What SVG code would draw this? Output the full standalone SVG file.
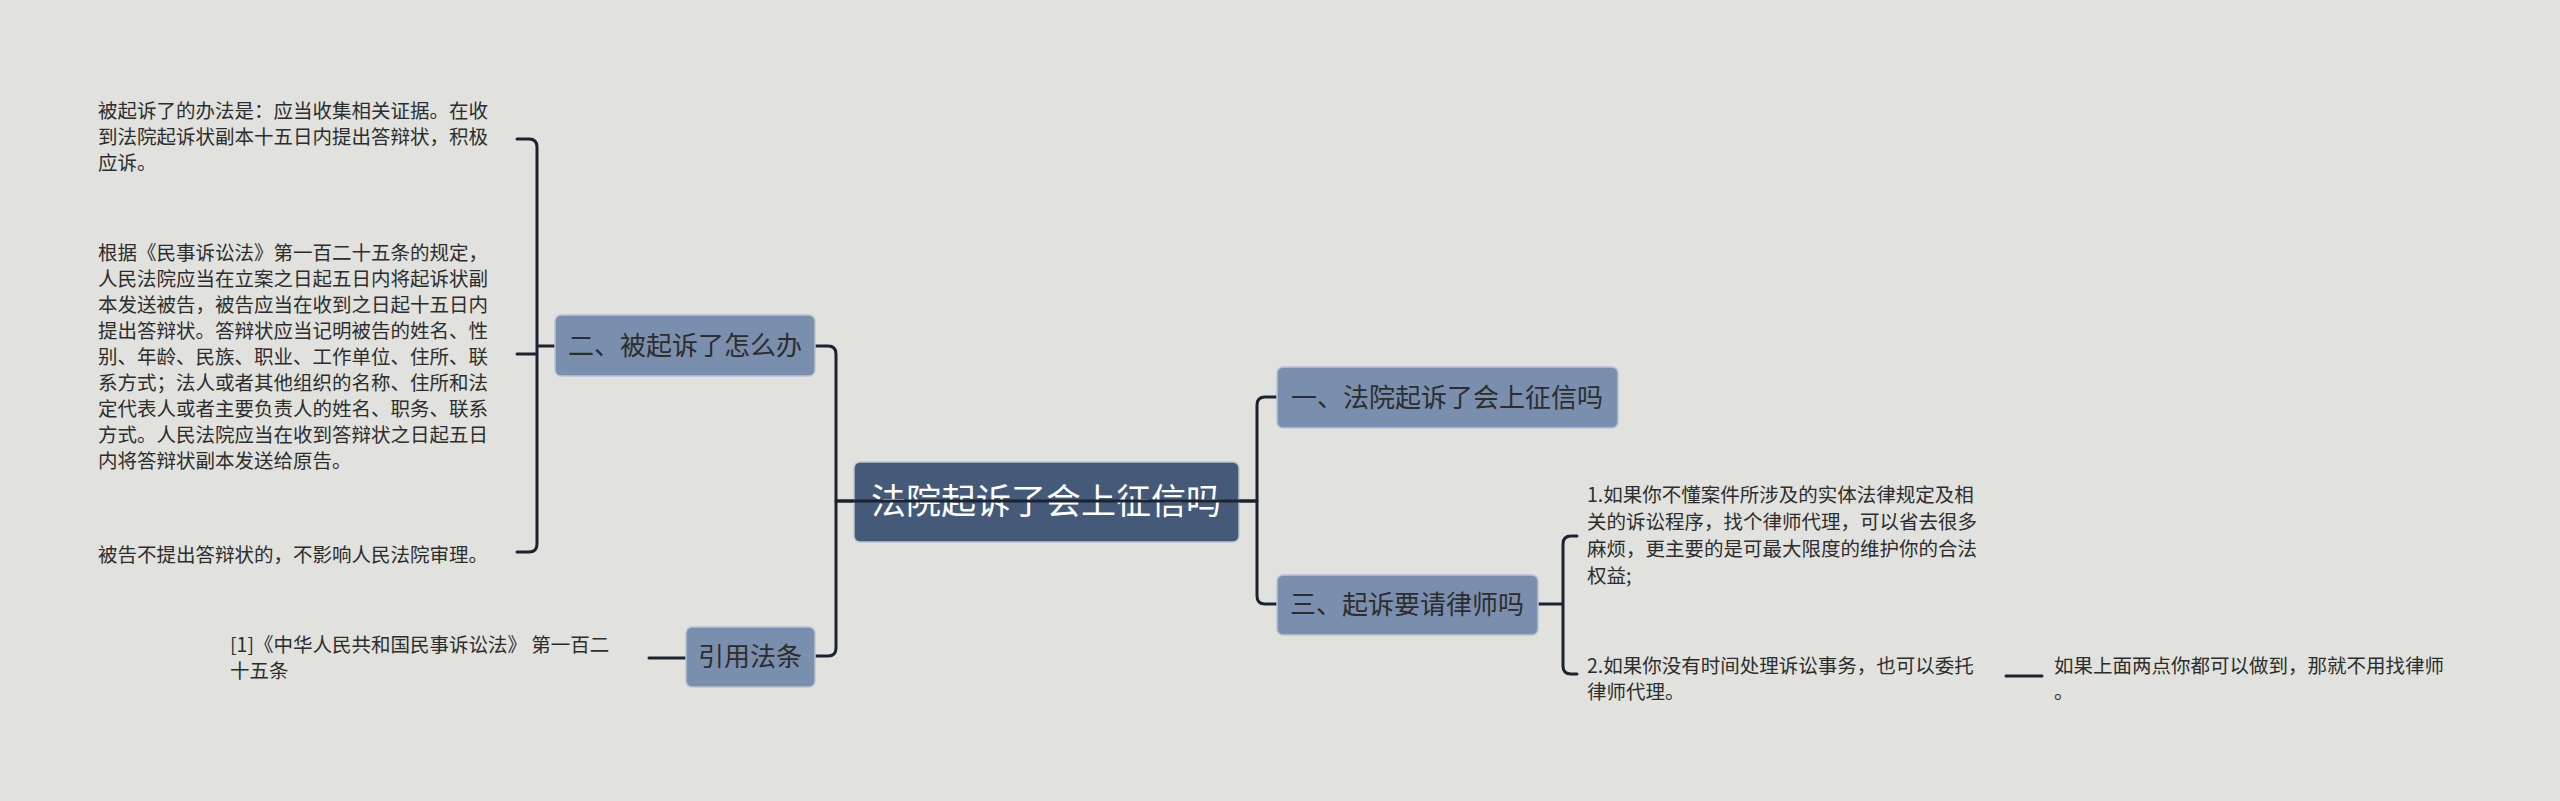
<svg xmlns="http://www.w3.org/2000/svg" width="2560" height="801" viewBox="0 0 2560 801">
<style>
text{font-family:"Noto Sans CJK SC","Noto Sans",sans-serif;fill:#2d2d2d}
.n{fill:#7a8fae;stroke:#b8c4d4;stroke-width:1.5}
.nt{font-size:26px;text-anchor:middle}
.lf{font-size:19.5px}
.c{fill:none;stroke:#1c2330;stroke-width:3;stroke-linecap:round}
</style>
<rect width="2560" height="801" fill="#e1e2dd"/>
<g id="connectors">
<path class="c" d="M1239 501H1257M1277 397H1265Q1257 397 1257 405V596Q1257 604 1265 604H1277"/>
<path class="c" d="M854 501H836M815 346H828Q836 346 836 354V648Q836 656 828 656H815"/>
<path class="c" d="M555 346H537M517 139H529Q537 139 537 147V544Q537 552 529 552H517M517 354H537"/>
<path class="c" d="M686 658H649"/>
<path class="c" d="M1538 604H1563M1577 536H1571Q1563 536 1563 544V666Q1563 674 1571 674H1577"/>
<path class="c" d="M2006 676H2042"/>
</g>
<g id="root"><rect x="854" y="462" width="385" height="80" rx="6" fill="#445a78" stroke="#b8c4d4" stroke-width="1.5"/><text x="1046" y="514" font-size="35" text-anchor="middle" style="fill:#fff">法院起诉了会上征信吗</text></g>
<path class="c" d="M836 501H1257"/>
<g id="n1"><rect class="n" x="1277" y="367" width="341" height="61" rx="6"/><text class="nt" x="1447" y="407">一、法院起诉了会上征信吗</text></g>
<g id="n3"><rect class="n" x="1277" y="575" width="261" height="60" rx="6"/><text class="nt" x="1407" y="614">三、起诉要请律师吗</text></g>
<g id="n2"><rect class="n" x="555" y="315" width="260" height="61" rx="6"/><text class="nt" x="685" y="355">二、被起诉了怎么办</text></g>
<g id="n4"><rect class="n" x="686" y="627" width="129" height="60" rx="6"/><text class="nt" x="750" y="666">引用法条</text></g>
<g id="l1"><text class="lf" x="98" y="118">被起诉了的办法是：应当收集相关证据。在收</text><text class="lf" x="98" y="144">到法院起诉状副本十五日内提出答辩状，积极</text><text class="lf" x="98" y="170">应诉。</text></g>
<g id="l2" class="lf">
<text class="lf" x="98" y="260">根据《民事诉讼法》第一百二十五条的规定，</text>
<text class="lf" x="98" y="286">人民法院应当在立案之日起五日内将起诉状副</text>
<text class="lf" x="98" y="312">本发送被告，被告应当在收到之日起十五日内</text>
<text class="lf" x="98" y="338">提出答辩状。答辩状应当记明被告的姓名、性</text>
<text class="lf" x="98" y="364">别、年龄、民族、职业、工作单位、住所、联</text>
<text class="lf" x="98" y="390">系方式；法人或者其他组织的名称、住所和法</text>
<text class="lf" x="98" y="416">定代表人或者主要负责人的姓名、职务、联系</text>
<text class="lf" x="98" y="442">方式。人民法院应当在收到答辩状之日起五日</text>
<text class="lf" x="98" y="468">内将答辩状副本发送给原告。</text>
</g>
<g id="l3"><text class="lf" x="98" y="562">被告不提出答辩状的，不影响人民法院审理。</text></g>
<g id="l4"><text class="lf" x="230" y="652">[1]《中华人民共和国民事诉讼法》 第一百二</text><text class="lf" x="230" y="678">十五条</text></g>
<g id="l5"><text class="lf" x="1587" y="502">1.如果你不懂案件所涉及的实体法律规定及相</text><text class="lf" x="1587" y="529">关的诉讼程序，找个律师代理，可以省去很多</text><text class="lf" x="1587" y="556">麻烦，更主要的是可最大限度的维护你的合法</text><text class="lf" x="1587" y="583">权益;</text></g>
<g id="l6"><text class="lf" x="1587" y="673">2.如果你没有时间处理诉讼事务，也可以委托</text><text class="lf" x="1587" y="699">律师代理。</text></g>
<g id="l7"><text class="lf" x="2054" y="673">如果上面两点你都可以做到，那就不用找律师</text><text class="lf" x="2054" y="699">。</text></g>
</svg>
